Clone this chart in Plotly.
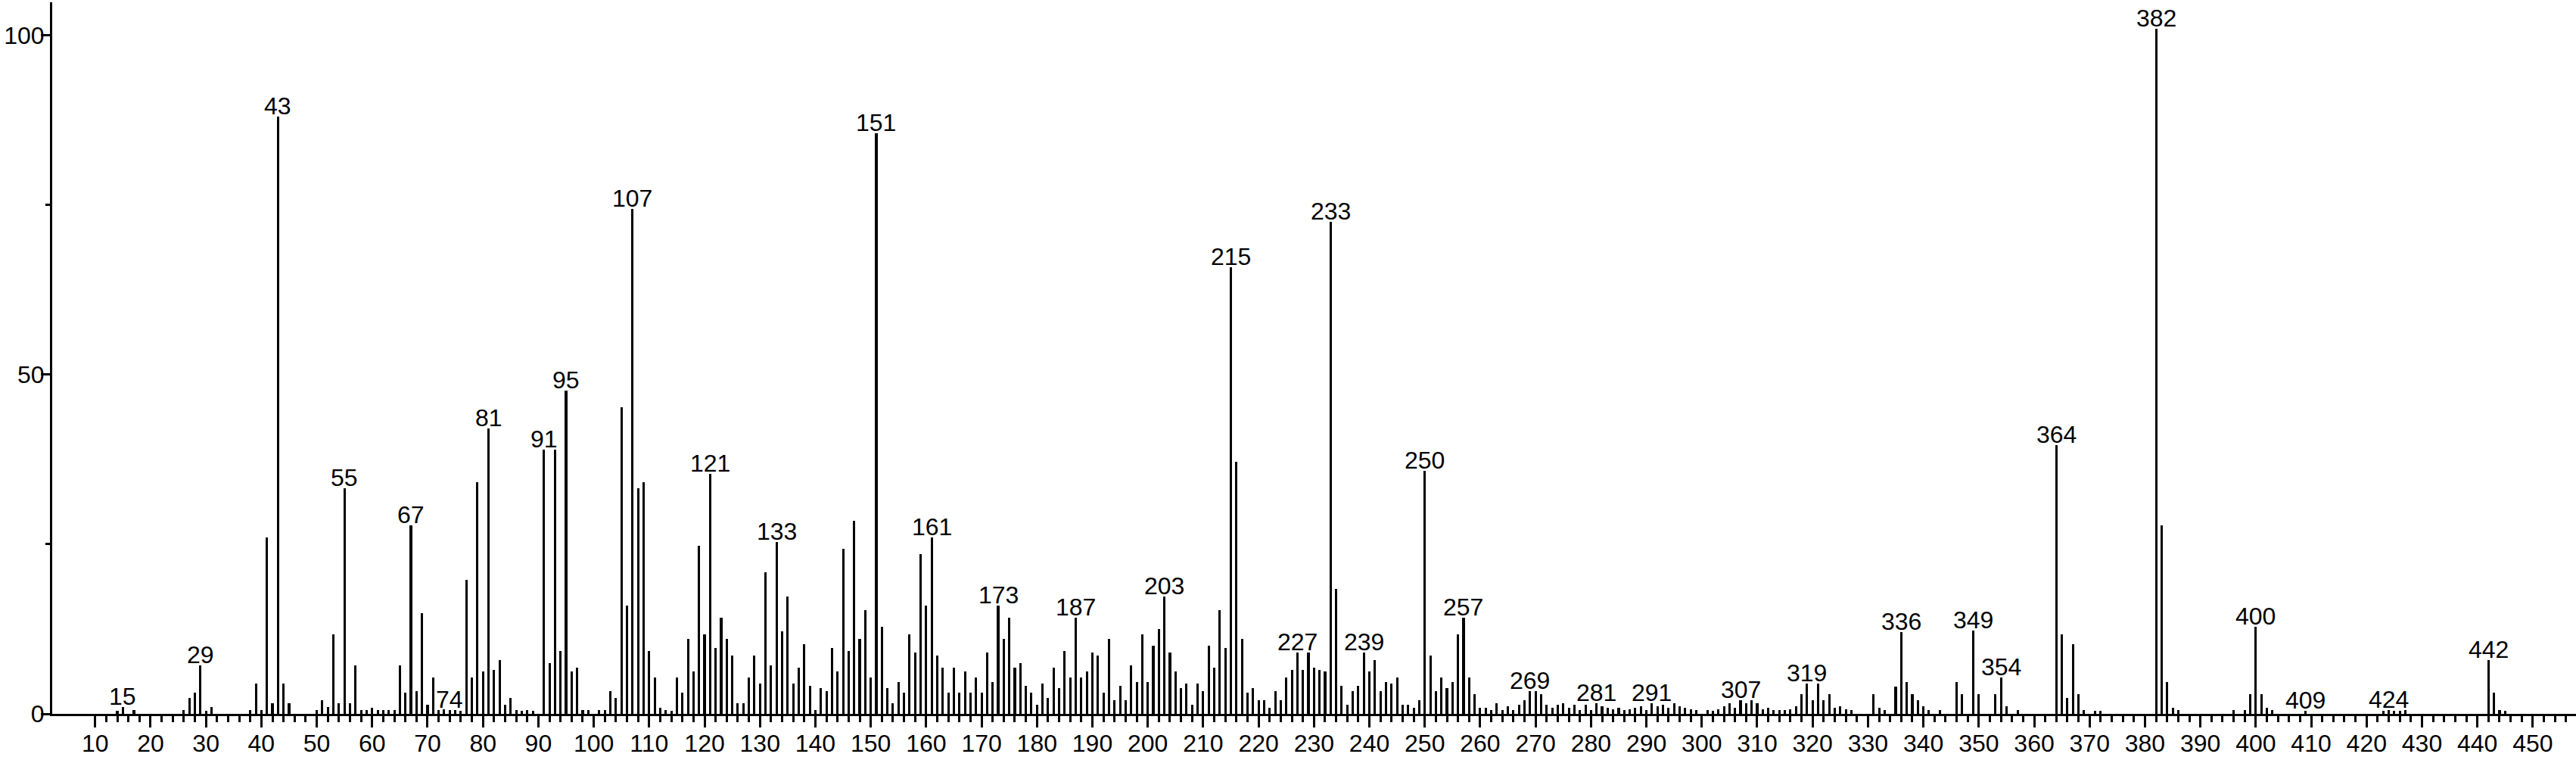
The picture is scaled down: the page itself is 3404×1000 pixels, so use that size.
import plotly.graph_objects as go

# m/z values and relative intensities
mz = [14, 15, 17, 26, 27, 28, 29, 30, 31, 38, 39, 40, 41, 42, 43, 44, 45,
      50, 51, 52, 53, 54, 55, 56, 57, 58, 59, 60, 61, 62, 63, 64,
      65, 66, 67, 68, 69, 70, 71, 72, 73, 74, 75, 76, 77, 78, 79, 80, 81, 82, 83, 84, 85, 86, 87, 88, 89,
      91, 92, 93, 94, 95, 96, 97, 98, 99, 101, 102, 103, 104, 105, 106, 107, 108, 109, 110,
      111, 112, 113, 114, 115, 116, 117, 118, 119, 120, 121, 122, 123, 124, 125, 126, 127, 128, 129, 130,
      131, 132, 133, 134, 135, 136, 137, 138, 139, 140, 141, 142, 143, 144, 145, 146, 147, 148, 149, 150,
      151, 152, 153, 154, 155, 156, 157, 158, 159, 160, 161, 162, 163, 164, 165, 166, 167, 168, 169, 170,
      171, 172, 173, 174, 175, 176, 177, 178, 179, 180, 181, 182, 183, 184, 185, 186, 187, 188, 189, 190,
      191, 192, 193, 194, 195, 196, 197, 198, 199, 200, 201, 202, 203, 204, 205, 206, 207, 208, 209, 210,
      211, 212, 213, 214, 215, 216, 217, 218, 219, 220, 221, 222, 223, 224, 225, 226, 227, 228, 229, 230,
      231, 232, 233, 234, 235, 236, 237, 238, 239, 240, 241, 242, 243, 244, 245, 246, 247, 248, 249, 250,
      251, 252, 253, 254, 255, 256, 257, 258, 259, 260, 261, 262, 263, 264, 265, 266, 267, 268, 269, 270,
      271, 272, 273, 274, 275, 276, 277, 278, 279, 280, 281, 282, 283, 284, 285, 286, 287, 288, 289, 290,
      291, 292, 293, 294, 295, 296, 297, 298, 299, 301, 302, 303, 304, 305, 306, 307, 308, 309, 310,
      311, 312, 313, 314, 315, 316, 317, 318, 319, 320, 321, 322, 323, 324, 325, 326, 327,
      331, 332, 333, 335, 336, 337, 338, 339, 340, 341, 343, 346, 347, 349, 350, 353, 354, 355, 357,
      364, 365, 366, 367, 368, 369, 371, 372, 382, 383, 384, 385, 386, 396, 398, 399, 400, 401, 402, 403,
      409, 423, 424, 425, 426, 427, 442, 443, 444, 445]

intensity = [0.5, 1.0, 0.6, 0.6, 2.3, 3.1, 7.1, 0.5, 1.0, 0.6, 4.5, 0.6, 26.0, 1.6, 88.1, 4.5, 1.6,
             0.6, 2.0, 1.0, 11.7, 1.6, 33.3, 1.6, 7.1, 0.6, 0.6, 0.9, 0.6, 0.6, 0.6, 0.6,
             7.1, 3.1, 27.8, 3.4, 14.8, 1.3, 5.4, 0.6, 0.7, 0.6, 0.6, 0.5, 19.8, 5.4, 34.2, 6.3, 42.1, 6.5, 7.9, 1.3, 2.3, 0.6, 0.5, 0.6, 0.5,
             38.9, 7.5, 39.0, 9.3, 47.7, 6.3, 6.8, 0.6, 0.6, 0.6, 0.6, 3.3, 2.3, 45.2, 16.0, 74.4, 33.3, 34.2, 9.3,
             5.4, 0.9, 0.6, 0.5, 5.4, 3.1, 11.0, 6.3, 24.8, 11.7, 35.4, 9.7, 14.2, 11.0, 8.6, 1.6, 1.6, 5.4, 8.6, 4.5,
             20.9, 7.1, 25.3, 12.2, 17.3, 4.5, 6.8, 10.3, 4.1, 0.6, 3.8, 3.3, 9.7, 6.3, 24.3, 9.3, 28.5, 11.0, 15.3, 5.4,
             85.6, 12.8, 3.8, 1.6, 4.7, 3.1, 11.7, 9.0, 23.6, 16.0, 26.0, 8.6, 6.8, 3.1, 6.8, 3.1, 6.3, 3.1, 5.4, 3.1,
             9.0, 4.7, 16.0, 11.0, 14.2, 6.8, 7.5, 4.1, 3.1, 1.3, 4.5, 2.3, 6.8, 3.8, 9.3, 5.4, 14.2, 5.4, 6.3, 9.0,
             8.6, 3.1, 11.0, 2.0, 4.1, 2.0, 7.1, 4.7, 11.7, 4.7, 10.0, 12.5, 17.3, 9.0, 6.3, 3.8, 4.5, 1.3, 4.5, 3.3,
             10.0, 6.8, 15.3, 9.7, 65.8, 37.2, 11.0, 3.1, 3.8, 2.0, 2.0, 0.9, 3.3, 2.0, 5.4, 6.5, 9.0, 6.5, 9.0, 6.8,
             6.5, 6.3, 72.5, 18.4, 4.1, 1.3, 3.3, 4.1, 9.0, 6.3, 7.9, 3.3, 4.7, 4.5, 5.4, 1.3, 1.3, 0.9, 2.0, 35.8,
             8.6, 3.3, 5.4, 3.8, 4.7, 11.7, 14.2, 5.4, 2.9, 0.9, 0.9, 0.6, 1.6, 0.6, 1.1, 0.6, 1.3, 2.0, 3.3, 3.3,
             2.9, 1.3, 0.9, 1.3, 1.6, 0.9, 1.3, 0.6, 1.3, 0.6, 1.6, 1.1, 0.9, 0.7, 0.9, 0.6, 0.7, 0.9, 1.1, 0.6,
             1.6, 1.1, 1.3, 0.9, 1.6, 1.1, 0.9, 0.7, 0.6, 0.6, 0.5, 0.7, 1.1, 1.6, 0.9, 2.0, 1.6, 2.0, 1.6,
             0.7, 0.9, 0.6, 0.6, 0.6, 0.7, 1.1, 2.9, 4.5, 2.0, 4.5, 2.0, 2.9, 0.9, 1.1, 0.7, 0.6,
             2.9, 0.9, 0.6, 4.0, 12.0, 4.7, 2.9, 2.0, 1.1, 0.6, 0.6, 4.7, 2.9, 12.3, 2.9, 2.9, 5.4, 1.1, 0.6,
             39.6, 11.7, 2.3, 10.3, 2.9, 0.6, 0.4, 0.5, 101.0, 27.8, 4.7, 0.9, 0.6, 0.6, 0.6, 2.9, 12.8, 2.9, 0.9, 0.6,
             0.5, 0.5, 0.6, 0.5, 0.5, 0.6, 7.9, 3.1, 0.6, 0.5]

# peaks annotated with their m/z
labelled_mz = [15, 29, 43, 55, 67, 74, 81, 91, 95, 107, 121, 133, 151, 161, 173, 187, 203, 215,
               227, 233, 239, 250, 257, 269, 281, 291, 307, 319, 336, 349, 354, 364, 382, 400,
               409, 424, 442]

y_tick_vals = [0, 50, 100]
y_tick_text = ["0", "50", "100"]
x_tick_vals = list(range(10, 451, 10))

FONT = "Liberation Sans"
FS = 32

lookup = dict(zip(mz, intensity))

fig = go.Figure()
fig.add_trace(go.Bar(
    x=mz, y=intensity, width=0.42,
    marker=dict(color="black", line=dict(width=0)),
    hoverinfo="skip", showlegend=False,
))

annotations = []
for m in labelled_mz:
    annotations.append(dict(
        x=m, y=lookup[m], text=str(m), showarrow=False,
        xanchor="center", yanchor="bottom", yshift=-6,
        font=dict(family=FONT, size=FS, color="black"),
    ))

fig.update_layout(
    width=3404, height=1000, autosize=False,
    margin=dict(l=69, r=0, t=3, b=57, pad=0),
    paper_bgcolor="white", plot_bgcolor="white",
    font=dict(family=FONT, size=FS, color="black"),
    annotations=annotations,
    bargap=0,
    hovermode=False,
    xaxis=dict(
        range=[2.25, 457.8], showgrid=False, zeroline=False, automargin=False,
        showline=True, linecolor="black", linewidth=3,
        tickmode="array", tickvals=x_tick_vals,
        ticks="outside", ticklen=15, tickwidth=3, tickcolor="black",
        ticklabelstandoff=-6,
        tickfont=dict(family=FONT, size=FS, color="black"),
        minor=dict(tickmode="array", tickvals=list(range(12, 458, 2)),
                   ticks="outside", ticklen=8, tickwidth=3, tickcolor="black"),
    ),
    yaxis=dict(
        range=[0, 104.9], showgrid=False, zeroline=False, automargin=False,
        showline=True, linecolor="black", linewidth=3,
        tickmode="array", tickvals=y_tick_vals, ticktext=y_tick_text,
        ticks="outside", ticklen=12, tickwidth=3, tickcolor="black",
        ticklabelstandoff=-11,
        tickfont=dict(family=FONT, size=FS, color="black"),
        minor=dict(tickmode="array", tickvals=[25, 75],
                   ticks="outside", ticklen=6, tickwidth=3, tickcolor="black"),
    ),
)

fig.write_html("out.html", config={"displayModeBar": False},
               post_script="document.body.style.margin='0';")
